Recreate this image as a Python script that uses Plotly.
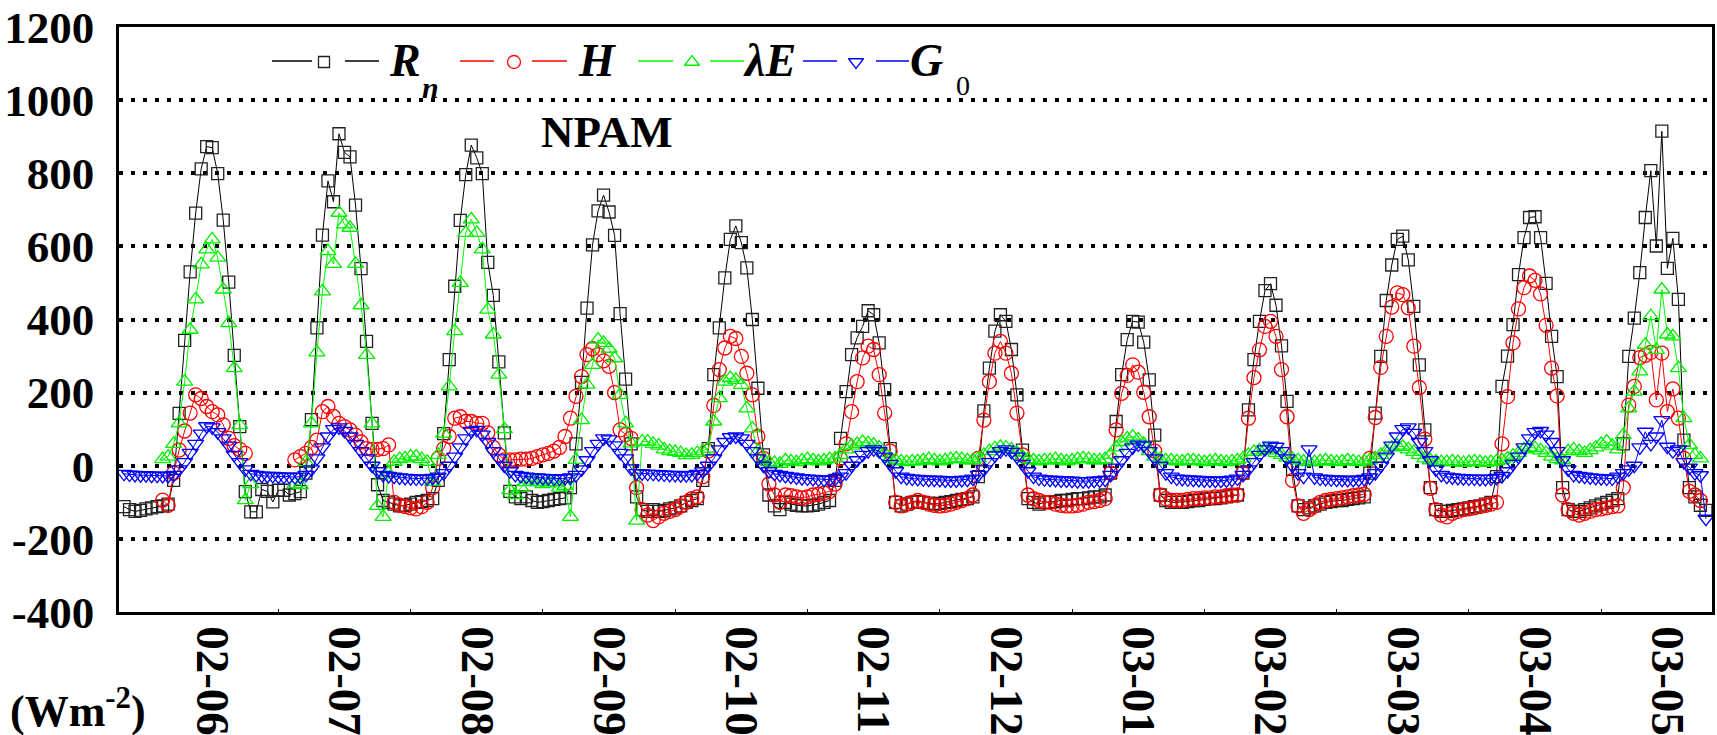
import plotly.graph_objects as go

# ---------------- data (hourly, 12 days x 24) ----------------
days = ["02-06", "02-07", "02-08", "02-09", "02-10", "02-11",
        "02-12", "03-01", "03-02", "03-03", "03-04", "03-05"]
y_ticks = [-400, -200, 0, 200, 400, 600, 800, 1000, 1200]
N = None

Rn = [
    -112, -120, -125, -122, -118, -115, -112, -110, -105, -40, 143, 343, 530, 691, 812, 873, 870, 799, 672, 502, 302, 107, -71, -126,
    -126, -65, -70, -99, -67, -67, -80, -76, -71, -20, 126, 377, 631, 779, 722, 908, 857, 845, 713, 539, 340, 116, -52, -95,
    -100, -105, -110, -108, -105, -100, -98, -95, -90, -40, 88, 290, 491, 671, 796, 877, 842, 799, 556, 466, 284, 90, -70, -85,
    -90, -85, -95, -100, -98, -95, -92, -90, -88, -60, 60, 228, 431, 604, 697, 740, 694, 630, 416, 237, 60, -85, -120, -125,
    -120, -125, -122, -118, -115, -110, -100, -95, -90, -40, 47, 249, 377, 514, 619, 656, 610, 541, 400, 212, 30, -80, -110, -120,
    -100, -105, -108, -110, -110, -108, -105, -100, -95, -40, 75, 203, 304, 350, 381, 424, 413, 336, 208, 47, -100, -110, -105, -100,
    -98, -100, -102, -105, -103, -100, -98, -95, -92, -90, -85, -30, 150, 267, 368, 413, 395, 318, 194, 43, -90, -100, -105, -100,
    -100, -98, -95, -95, -92, -90, -90, -88, -85, -85, -80, -20, 121, 249, 345, 395, 393, 338, 235, 84, -80, -95, -100, -100,
    -100, -98, -95, -95, -92, -90, -90, -88, -85, -82, -80, -20, 153, 290, 395, 479, 498, 439, 328, 176, -10, -110, -120, -115,
    -110, -105, -100, -98, -95, -95, -92, -90, -88, -85, -20, 144, 299, 452, 549, 619, 628, 563, 436, 276, 98, -60, -120, -125,
    -125, -122, -120, -118, -115, -112, -110, -105, -100, -30, 217, 300, 386, 523, 624, 679, 681, 624, 499, 354, 244, -60, -120, -125,
    -125, -120, -115, -110, -105, -100, -95, -90, 60, 299, 404, 528, 679, 807, 601, 915, 540, 622, 455, 70, -60, -85, -108, -122,
]

H = [
    N, N, N, N, N, N, N, -94, -108, -20, 43, 95, 144, 194, 184, 162, 148, 139, 112, 75, 55, 45, 34, N,
    N, N, N, N, N, N, N, 16, 25, 34, 50, 70, 148, 162, 135, 116, 107, 98, 84, 65, 47, 45, 45, 47,
    57, -100, -108, -112, -115, -118, -112, -100, -60, 20, 47, 80, 130, 134, 121, 121, 116, 116, 90, 50, 30, 16, 16, 16,
    18, 18, 20, 25, 30, 34, 40, 50, 80, 130, 190, 244, 304, 320, 304, 287, 272, 200, 98, 85, 75, -60, -120, -135,
    -150, -140, -130, -125, -120, -110, -100, -90, -85, -30, 40, 165, 263, 322, 354, 348, 299, 253, 194, 80, 20, -50, -80, -100,
    -80, -82, -85, -88, -85, -80, -78, -75, -70, -50, 20, 60, 148, 230, 295, 327, 318, 249, 144, 40, -100, -110, -105, -100,
    -95, -100, -105, -108, -110, -108, -105, -100, -95, -90, -80, 20, 125, 230, 308, 340, 308, 253, 144, 30, -80, -90, -95, -100,
    -100, -105, -108, -110, -110, -108, -105, -100, -98, -95, -90, -20, 98, 198, 247, 276, 256, 201, 134, 40, -80, -90, -95, -95,
    -95, -92, -90, -90, -88, -88, -85, -85, -82, -80, -80, -20, 130, 241, 317, 381, 395, 354, 263, 134, -40, -110, -130, -120,
    -110, -100, -95, -92, -90, -88, -85, -82, -80, -78, 20, 132, 269, 354, 434, 473, 468, 432, 327, 214, 73, -62, -120, -135,
    -140, -130, -125, -120, -118, -115, -112, -108, -105, -100, 60, 189, 336, 429, 487, 519, 507, 470, 384, 267, 191, -80, -120, -130,
    -135, -130, -125, -120, -118, -115, -112, -110, -60, 166, 217, 296, 302, 310, 180, 308, 148, 210, 130, 20, -70, -80, -95, N,
]

LE = [
    N, N, N, N, N, N, N, 18, 25, 60, 116, 230, 372, 455, 551, 592, 619, 569, 482, 390, 267, 111, -94, -50,
    N, N, N, N, N, N, N, -50, -53, 10, 116, 310, 477, 587, 552, 692, 660, 651, 552, 439, 303, 116, -110, -140,
    -20, 11, 18, 20, 25, 25, 18, 11, -44, 30, 88, 217, 368, 500, 637, 674, 637, 592, 427, 359, 249, 100, -67, -80,
    -60, -45, -40, -45, -50, -48, -45, -60, -55, -140, 16, 125, 222, 276, 345, 336, 320, 294, 194, 116, 61, -150, 66, 66,
    60, 55, 45, 40, 38, 35, 29, 30, 35, 40, 47, 121, 185, 230, 240, 235, 221, 157, 102, 40, 15, 10, 8, 5,
    15, 12, 10, 15, 18, 15, 12, 15, 18, 20, 30, 45, 55, 60, 65, 62, 58, 50, 35, 20, 15, 12, 10, 12,
    12, 15, 18, 15, 12, 15, 18, 20, 18, 15, 15, 20, 30, 40, 48, 52, 50, 45, 35, 25, 18, 15, 12, 15,
    15, 18, 15, 12, 15, 18, 20, 18, 15, 15, 18, 30, 50, 65, 75, 80, 72, 60, 40, 25, 18, 15, 15, 12,
    12, 15, 15, 12, 10, 12, 15, 12, 10, 12, 15, 20, 30, 38, 42, 45, 42, 35, 30, 22, 18, 15, 12, 10,
    10, 12, 15, 12, 10, 12, 15, 12, 10, 12, 15, 20, 30, 40, 50, 55, 52, 45, 38, 30, 20, 15, 12, 10,
    10, 12, 10, 8, 10, 12, 10, 8, 10, 12, 15, 20, 28, 35, 45, 50, 48, 42, 35, 25, 18, 15, 40, 45,
    40, 35, 43, 50, 60, 66, 55, 45, 84, 157, 203, 258, 331, 409, 317, 482, 359, 354, 267, 130, 57, 30, 20, N,
]

G0 = [
    -22, -24, -25, -26, -26, -27, -27, -28, -28, -25, -10, 10, 35, 60, 88, 108, 105, 92, 75, 55, 30, 10, -10, -22,
    -25, -27, -28, -28, -29, -30, -30, -31, -30, -25, -10, 20, 50, 80, 100, 105, 95, 80, 60, 40, 20, 0, -15, -25,
    -28, -30, -32, -33, -34, -35, -35, -35, -33, -30, -20, 0, 25, 50, 75, 95, 98, 85, 65, 40, 20, 0, -15, -25,
    -28, -30, -31, -32, -33, -34, -35, -35, -34, -32, -25, -10, 15, 40, 60, 75, 72, 56, 35, 20, -7, -20, -21, -22,
    -22, -23, -24, -25, -25, -26, -26, -25, -22, -15, 0, 20, 45, 65, 78, 80, 75, 60, 40, 20, 0, -15, -22, -25,
    -28, -30, -32, -34, -35, -36, -37, -38, -38, -36, -30, -20, 0, 15, 30, 40, 45, 40, 25, 5, -15, -30, -33, -35,
    -36, -37, -38, -38, -39, -40, -40, -40, -39, -38, -35, -25, -10, 10, 28, 40, 45, 38, 25, 5, -15, -30, -35, -37,
    -38, -39, -40, -40, -41, -42, -42, -42, -41, -40, -38, -25, -5, 15, 35, 50, 58, 55, 40, 20, 0, -20, -30, -35,
    -36, -37, -38, -39, -40, -40, -41, -41, -40, -38, -35, -25, -10, 10, 30, 45, 55, 52, 40, 20, 0, -20, -30, 45,
    -32, -35, -36, -37, -38, -38, -39, -39, -38, -36, -32, -20, 0, 25, 55, 80, 100, 105, 90, 65, 40, 15, -10, -25,
    -30, -32, -33, -34, -35, -35, -36, -36, -35, -33, -28, -15, 5, 25, 50, 75, 92, 95, 85, 65, 40, 15, -10, -25,
    -28, -30, -32, -33, -34, -35, -35, -30, -20, -10, 0, 50, 93, 60, 80, 125, 52, 40, 45, 10, -5, -20, -26, -145,
]

hours = list(range(len(Rn)))
for s in (Rn, H, LE, G0):
    assert len(s) == 288, len(s)

# ---------------- figure ----------------
W, HGT = 1717, 735
L, R, T, B = 119, 1712, 27, 612
XR = [-0.91, 288.1]
YR = [-400, 1200]
FONT = "Liberation Serif, Times New Roman, serif"

series = [
    ("Rn", Rn, "black", "#222222", "square-open", 12),
    ("H", H, "#FF0000", "#FF0000", "circle-open", 14),
    ("LE", LE, "#00FF00", "#00EE00", "triangle-up-open", 14),
    ("G0", G0, "#0000FF", "#0000FF", "triangle-down-open", 14),
]

fig = go.Figure()
for name, vals, lc, mc, sym, sz in series:
    fig.add_trace(go.Scatter(
        x=hours, y=vals, mode="lines+markers", name=name, showlegend=False,
        line=dict(color=lc, width=1),
        marker=dict(symbol=sym, size=sz, color=mc, line=dict(width=1.3, color=mc)),
        connectgaps=False,
    ))


# pixel -> data helpers for the hand-drawn legend key
def dx(x):
    return XR[0] + (x - L) / (R - L) * (XR[1] - XR[0])


def dy(y):
    return YR[1] - (y - T) / (B - T) * (YR[1] - YR[0])


leg_y = 61
leg_items = [
    (272, 312, 324, 345, 379),
    (460, 494, 514, 532, 567),
    (638, 673, 692, 710, 744),
    (803, 837, 856, 876, 909),
]
for (a0, a1, mx, b0, b1), (name, vals, lc, mc, sym, sz) in zip(leg_items, series):
    fig.add_trace(go.Scatter(
        x=[dx(a0), dx(a1), None, dx(b0), dx(b1)],
        y=[dy(leg_y)] * 2 + [None] + [dy(leg_y)] * 2,
        mode="lines", line=dict(color=lc, width=1.3),
        showlegend=False, hoverinfo="skip", cliponaxis=False))
    fig.add_trace(go.Scatter(
        x=[dx(mx)], y=[dy(leg_y + 1)], mode="markers",
        marker=dict(symbol=sym, size=sz - 1, color=mc, line=dict(width=1.3, color=mc)),
        showlegend=False, hoverinfo="skip", cliponaxis=False))


def px(x):
    return (x - L) / (R - L)


def py(y):
    return (B - y) / (B - T)


ann = []


def text(x, y, s, size, xanchor="left", yanchor="middle", weight="bold"):
    ann.append(dict(x=px(x), y=py(y), xref="paper", yref="paper", text=s,
                    showarrow=False, xanchor=xanchor, yanchor=yanchor,
                    font=dict(family=FONT, size=size, color="black", weight=weight)))


text(387, 60, "<i>R</i>", 46)
text(420, 88, "<i>n</i>", 30)
text(576, 60, "<i>H</i>", 46)
text(741, 60, "<i>λE</i>", 46)
text(908, 60, "<i>G</i>", 46)
text(954, 86, "0", 28, weight="normal")
text(607, 132, "NPAM", 45, xanchor="center")
text(8, 708, "(Wm<sup>-2</sup>)", 44)

fig.update_layout(
    width=W, height=HGT, autosize=False,
    margin=dict(l=L, r=W - R, t=T, b=HGT - B, pad=0, autoexpand=False),
    paper_bgcolor="white", plot_bgcolor="white",
    annotations=ann,
    showlegend=False,
    xaxis=dict(
        range=XR, showgrid=False, zeroline=False, automargin=False,
        showline=True, linecolor="black", linewidth=2.5, mirror=True,
        tickmode="array", tickvals=[16 + 24 * k for k in range(len(days))], ticktext=days,
        tickangle=90, ticks="", ticklabelstandoff=2,
        tickfont=dict(family=FONT, size=47, color="black", weight="bold"),
        minor=dict(tickmode="array", tickvals=[4 + 24 * k for k in range(1, 12)],
                   ticks="inside", ticklen=3, tickwidth=1, tickcolor="black"),
    ),
    yaxis=dict(
        range=YR, tickmode="array", tickvals=y_ticks, automargin=False,
        ticktext=[str(v) for v in y_ticks],
        showgrid=True, gridcolor="black", gridwidth=3.5, griddash="4px,8px",
        zeroline=False, showline=True, linecolor="black", linewidth=2.5, mirror=True,
        ticks="", ticklabelstandoff=13,
        tickfont=dict(family=FONT, size=45, color="black", weight="bold"),
    ),
)

fig.write_html("out.html")
